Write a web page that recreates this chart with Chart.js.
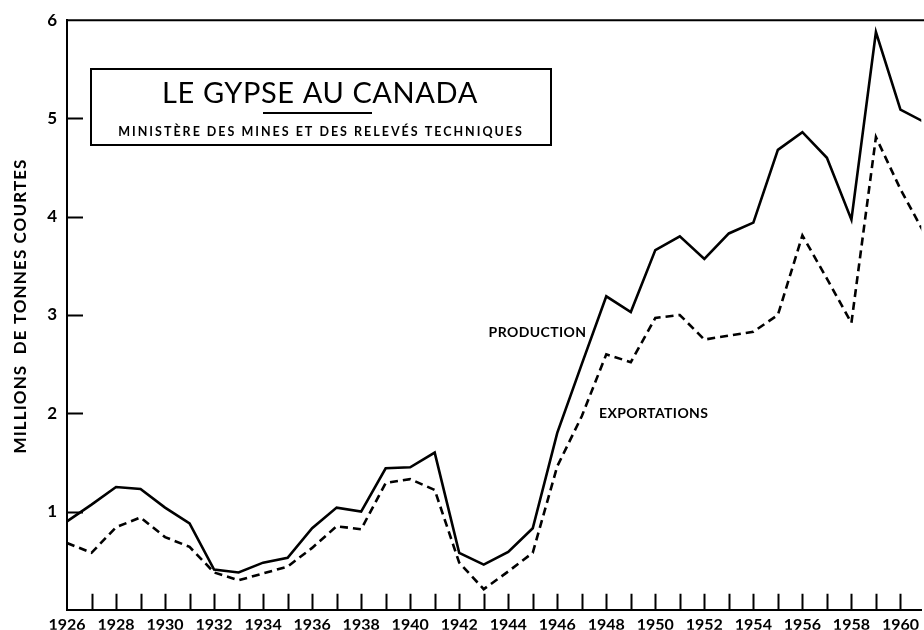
<!DOCTYPE html>
<html>
<head>
<meta charset="utf-8">
<script src="https://cdn.jsdelivr.net/npm/chart.js@4/dist/chart.umd.min.js"></script>
<style>
  html, body { margin: 0; padding: 0; background: #fff; }
  #wrap { width: 924px; height: 630px; }
</style>
</head>
<body>
<div id="wrap"><canvas id="chart"></canvas></div>
<script>
// data (millions of short tons)
const years = [1926,1927,1928,1929,1930,1931,1932,1933,1934,1935,1936,1937,1938,1939,1940,1941,1942,1943,
  1944,1945,1946,1947,1948,1949,1950,1951,1952,1953,1954,1955,1956,1957,1958,1959,1960,1961];
const production = [0.90,1.07,1.25,1.23,1.04,0.88,0.41,0.38,0.48,0.53,0.83,1.04,1.00,1.44,1.45,1.60,0.58,0.46,
  0.59,0.83,1.80,2.50,3.19,3.03,3.66,3.80,3.57,3.83,3.94,4.68,4.86,4.60,3.97,5.88,5.09,4.96];
const exportations = [0.68,0.58,0.84,0.94,0.74,0.64,0.38,0.30,0.37,0.44,0.63,0.85,0.82,1.29,1.33,1.22,0.48,0.21,
  0.39,0.58,1.46,1.97,2.60,2.52,2.97,3.00,2.75,2.79,2.83,3.00,3.81,3.37,2.92,4.81,4.28,3.82];
const yearLabels = years.filter(yr => yr % 2 === 0 && yr <= 1960);
const yTickValues = [1,2,3,4,5,6];

const FONT = 'Lato, "DejaVu Sans", sans-serif';

const toPoints = (vals) => years.map((yr, i) => ({ x: yr, y: vals[i] }));

// frame, inward ticks, title box and line labels
const decor = {
  id: 'decor',
  afterDraw(chart) {
    const { ctx, chartArea: a, scales: { x, y } } = chart;
    ctx.save();
    ctx.strokeStyle = '#000';
    ctx.fillStyle = '#000';

    // top frame line
    ctx.lineWidth = 2;
    ctx.beginPath();
    ctx.moveTo(a.left, a.top);
    ctx.lineTo(chart.width, a.top);
    ctx.stroke();

    // ticks pointing into the plot
    ctx.beginPath();
    for (let yr = years[0] + 1; yr <= 1960; yr++) {
      const px = Math.round(x.getPixelForValue(yr)) + 0.5;
      ctx.moveTo(px, a.bottom);
      ctx.lineTo(px, a.bottom - 16);
    }
    yTickValues.slice(0, -1).forEach(v => {
      const py = Math.round(y.getPixelForValue(v)) + 0.5;
      ctx.moveTo(a.left, py);
      ctx.lineTo(a.left + 16, py);
    });
    ctx.stroke();

    // y axis title
    ctx.save();
    ctx.translate(21, 306);
    ctx.rotate(-Math.PI / 2);
    ctx.font = 'bold 17px ' + FONT;
    ctx.letterSpacing = '1.1px';
    ctx.textAlign = 'left';
    ctx.textBaseline = 'middle';
    const yTitle = 'MILLIONS  DE TONNES COURTES';
    const w = ctx.measureText(yTitle).width;
    ctx.fillText(yTitle, -w / 2, 0);
    ctx.restore();

    // title box
    ctx.lineWidth = 2;
    ctx.strokeRect(91, 69, 460, 76);
    ctx.font = '29px ' + FONT;
    ctx.letterSpacing = '0.6px';
    ctx.textAlign = 'center';
    ctx.textBaseline = 'alphabetic';
    ctx.fillText('LE GYPSE AU CANADA', 320, 103);
    ctx.beginPath();
    ctx.moveTo(263, 113);
    ctx.lineTo(372, 113);
    ctx.stroke();
    ctx.font = 'bold 12.5px ' + FONT;
    ctx.letterSpacing = '2px';
    ctx.fillText('MINISTÈRE DES MINES ET DES RELEVÉS TECHNIQUES', 321, 136);

    // series labels
    ctx.font = 'bold 14px ' + FONT;
    ctx.letterSpacing = '0.4px';
    ctx.textAlign = 'left';
    ctx.textBaseline = 'middle';
    ctx.fillText('PRODUCTION', x.getPixelForValue(1943.2), y.getPixelForValue(2.82));
    ctx.fillText('EXPORTATIONS', x.getPixelForValue(1947.7), y.getPixelForValue(2.0));
    ctx.restore();
  }
};

new Chart(document.querySelector('#chart'), {
  type: 'line',
  data: {
    datasets: [
      {
        label: 'Production',
        data: toPoints(production),
        borderColor: '#000',
        borderWidth: 2.6,
        pointRadius: 0,
        tension: 0
      },
      {
        label: 'Exportations',
        data: toPoints(exportations),
        borderColor: '#000',
        borderWidth: 2.6,
        borderDash: [8, 5],
        pointRadius: 0,
        tension: 0
      }
    ]
  },
  options: {
    responsive: true,
    maintainAspectRatio: false,
    animation: false,
    devicePixelRatio: 1,
    layout: { padding: { top: 20, right: 0, bottom: 0, left: 0 } },
    plugins: { legend: { display: false }, tooltip: { enabled: false } },
    scales: {
      x: {
        type: 'linear',
        min: 1926,
        max: 1960.85,
        grid: { display: false, drawTicks: false },
        border: { display: true, color: '#000', width: 2 },
        ticks: {
          autoSkip: false,
          maxRotation: 0,
          padding: 5,
          color: '#000',
          font: { family: FONT, size: 16, weight: 'bold' },
          callback: v => String(v)
        },
        afterBuildTicks: s => { s.ticks = yearLabels.map(v => ({ value: v })); },
        afterFit: s => { s.height = 20; }
      },
      y: {
        min: 0,
        max: 6,
        grid: { display: false, drawTicks: false },
        border: { display: true, color: '#000', width: 2 },
        ticks: {
          stepSize: 1,
          padding: 10,
          color: '#000',
          font: { family: FONT, size: 17, weight: 'bold' },
          callback: v => yTickValues.includes(v) ? String(v) : ''
        },
        afterFit: s => { s.width = 67; }
      }
    }
  },
  plugins: [decor]
});
</script>
</body>
</html>
